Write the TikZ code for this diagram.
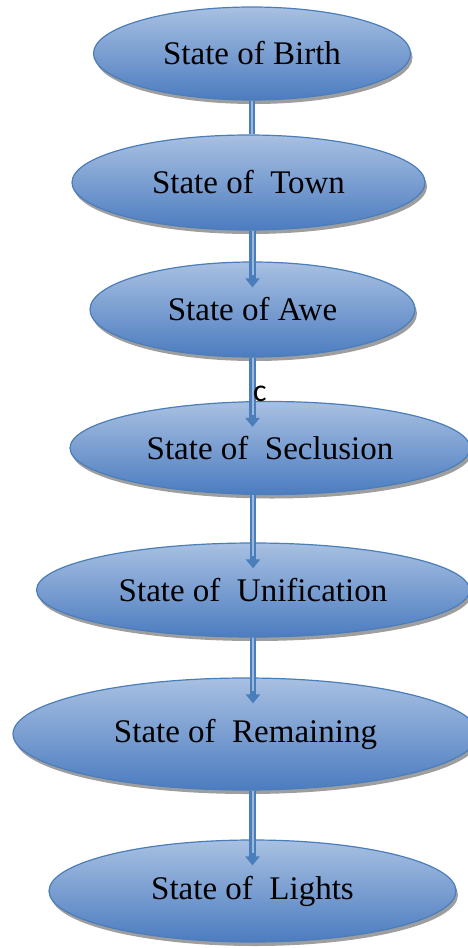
\documentclass[tikz,border=0pt]{standalone}
\usepackage{fontspec}
\setmainfont{Liberation Serif}
\newfontfamily\labelfont{Carlito}
\usetikzlibrary{shapes.geometric,shadows,arrows.meta}

\definecolor{stateTop}{HTML}{A8C0E2}
\definecolor{stateBot}{HTML}{4C7CC0}
\definecolor{stateRim}{HTML}{4A7EBB}
\definecolor{linkBlue}{HTML}{4A7EBB}
\definecolor{linkLight}{HTML}{9BB8DE}

\begin{document}
\begin{tikzpicture}
		[x=1pt, y=-1pt,
		state/.style={ellipse, draw=stateRim, line width=1.2pt, top color=stateTop, bottom color=stateBot,
			inner sep=0pt, font=\fontsize{33}{38}\selectfont,
			drop shadow={shadow xshift=2pt, shadow yshift=-4pt, fill=black!38, opacity=1}},
		plainlink/.style={draw=linkBlue, line width=6.5pt, postaction={draw=linkLight, line width=2pt}},
		link/.style={draw=linkBlue, line width=6.5pt, shorten >=-26pt, -{Triangle[width=14pt,length=9pt]},
			postaction={draw=linkLight, line width=2pt, -, shorten >=-14pt}}]
		\useasboundingbox (0,0) rectangle (467,948);
		\node[state, minimum width=317pt, minimum height=93pt] (birth) at (252,53.5) {State of Birth};
		\node[state, minimum width=353pt, minimum height=95pt] (town) at (248.5,182.5) {State of\ \ Town};
		\node[state, minimum width=325pt, minimum height=95pt] (awe) at (252.5,309.5) {State of Awe};
		\node[state, minimum width=400pt, minimum height=93pt] (seclusion) at (270,448) {State of\ \ Seclusion};
		\node[state, minimum width=433pt, minimum height=94pt] (unification) at (253,590) {State of\ \ Unification};
		\node[state, minimum width=465pt, minimum height=112pt] (remaining) at (245.5,734) {State of\ \ Remaining};
		\node[state, minimum width=407pt, minimum height=102pt] (lights) at (252.5,891) {State of\ \ Lights};
		\draw [plainlink] (birth.south) -- (birth.south |- town.north);
		\draw [link] (town.south -| awe) -- (awe.north);
		\draw [link] (awe.south) -- (awe.south |- seclusion.north);
		\draw [link] (seclusion.south -| unification) -- (unification.north);
		\draw [link] (unification.south) -- (unification.south |- remaining.north);
		\draw [link] (remaining.south -| lights) -- (lights.north);
		\node[font=\labelfont\fontsize{32}{36}\selectfont, inner sep=0pt] (c) at (260,394) {c};
	\end{tikzpicture}
\end{document}
